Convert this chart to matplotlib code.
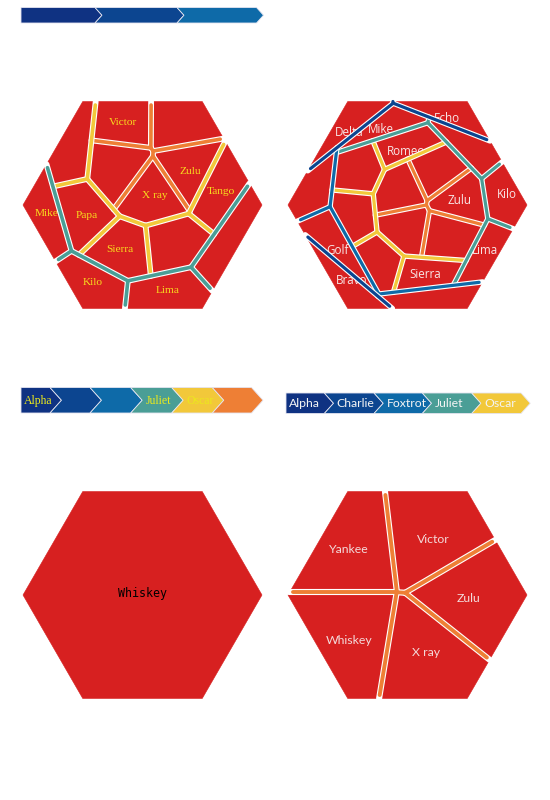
import numpy as np
import matplotlib
matplotlib.use('Agg')
import matplotlib.pyplot as plt
from matplotlib.patches import Polygon
from matplotlib.collections import LineCollection

levels = ['#0f3282', '#0c4590', '#0e6aa8', '#4a9e96', '#f2c83a', '#ee7f35']
red = '#d72020'
R = 119.5

# breadcrumbs
crumb_top = ['', '', '']
crumb_left = ['Alpha', '', '', 'Juliet', 'Oscar', '']
crumb_right = ['Alpha', 'Charlie', 'Foxtrot', 'Juliet', 'Oscar']

# top left: Foxtrot zoomed in
tl_labels = ['Mike', '', 'Papa', 'Sierra', '', 'Tango', 'Victor', '', '', 'X ray', 'Zulu', 'Kilo', 'Lima', '']
tl_paths = ['Alpha/Charlie/Foxtrot/Mike',
            'Alpha/Charlie/Foxtrot/Juliet/Quebec',
            'Alpha/Charlie/Foxtrot/Juliet/Papa',
            'Alpha/Charlie/Foxtrot/Juliet/Sierra',
            'Alpha/Charlie/Foxtrot/Juliet/Uniform',
            'Alpha/Charlie/Foxtrot/Juliet/Tango',
            'Alpha/Charlie/Foxtrot/Juliet/Oscar/Victor',
            'Alpha/Charlie/Foxtrot/Juliet/Oscar/Yankee',
            'Alpha/Charlie/Foxtrot/Juliet/Oscar/Whiskey',
            'Alpha/Charlie/Foxtrot/Juliet/Oscar/X ray',
            'Alpha/Charlie/Foxtrot/Juliet/Oscar/Zulu',
            'Alpha/Charlie/Foxtrot/Kilo',
            'Alpha/Charlie/Foxtrot/Lima',
            'Alpha/Charlie/Foxtrot/November']
tl_values = [21, 24, 28, 28, 28, 26, 24, 27, 27, 27, 25, 25, 27, 26]
tl_x = [46.7, 72, 86.7, 120, 178, 221, 122.7, 182, 117, 155, 190.7, 92.7, 167.7, 224]
tl_y = [213, 148, 215, 250, 244, 191, 122.7, 123, 168, 196, 172, 282.7, 290.7, 240]

# top right: whole tree
tr_labels = ['Delta', 'Echo', 'Bravo', '', 'Golf', '', 'Mike', '', 'Kilo', 'Lima',
             '', 'Romeo', '', '', 'Sierra', '', '', 'Zulu', '', '']
tr_paths = ['Alpha/Delta', 'Alpha/Echo', 'Alpha/Bravo',
            'Alpha/Charlie/Hotel', 'Alpha/Charlie/Golf', 'Alpha/Charlie/India',
            'Alpha/Charlie/Foxtrot/Mike', 'Alpha/Charlie/Foxtrot/November',
            'Alpha/Charlie/Foxtrot/Kilo', 'Alpha/Charlie/Foxtrot/Lima',
            'Alpha/Charlie/Foxtrot/Juliet/Quebec', 'Alpha/Charlie/Foxtrot/Juliet/Romeo',
            'Alpha/Charlie/Foxtrot/Juliet/Papa', 'Alpha/Charlie/Foxtrot/Juliet/Uniform',
            'Alpha/Charlie/Foxtrot/Juliet/Sierra',
            'Alpha/Charlie/Foxtrot/Juliet/Oscar/Yankee', 'Alpha/Charlie/Foxtrot/Juliet/Oscar/Victor',
            'Alpha/Charlie/Foxtrot/Juliet/Oscar/Zulu', 'Alpha/Charlie/Foxtrot/Juliet/Oscar/X ray',
            'Alpha/Charlie/Foxtrot/Juliet/Oscar/Whiskey']
tr_values = [16, 15, 16, 18, 21, 18, 16, 17, 18, 17, 20, 17, 18, 18, 18, 19, 19, 20, 21, 19]
tr_x = [349, 446.7, 352, 311, 337.5, 433, 381, 470, 506.7, 485, 356, 405.8, 352, 380, 425, 395, 438, 460, 450, 403]
tr_y = [133, 118, 280, 190, 250, 298, 129.7, 150, 195, 250.7, 172, 151.7, 214, 262, 275, 190, 170, 200, 238, 230]

# bottom left: Whiskey
bl_labels = ['Whiskey']
bl_paths = ['Alpha/Charlie/Foxtrot/Juliet/Oscar/Whiskey']
bl_values = [75]
bl_x = [142.5]
bl_y = [594]

# bottom right: Oscar
br_labels = ['Yankee', 'Victor', 'Zulu', 'X ray', 'Whiskey']
br_paths = ['Alpha/Charlie/Foxtrot/Juliet/Oscar/' + s for s in br_labels]
br_values = [73, 75, 73, 75, 75]
br_x = [349, 433.3, 468.3, 425.7, 349]
br_y = [549.3, 539.3, 599, 652.7, 640]


def clip(P, T, a, b, c, tag):
    outp, outt = [], []
    n = len(P)
    for k in range(n):
        p, q = P[k], P[(k + 1) % n]
        fp = a * p[0] + b * p[1] - c
        fq = a * q[0] + b * q[1] - c
        if fp <= 0:
            outp.append(p)
            outt.append(T[k])
            if fq > 0:
                s = fp / (fp - fq)
                outp.append((p[0] + s * (q[0] - p[0]), p[1] + s * (q[1] - p[1])))
                outt.append(tag)
        elif fq <= 0:
            s = fp / (fp - fq)
            outp.append((p[0] + s * (q[0] - p[0]), p[1] + s * (q[1] - p[1])))
            outt.append(T[k])
    return outp, outt


def area(P):
    if len(P) < 3:
        return 0.0
    x = np.array([p[0] for p in P])
    y = np.array([p[1] for p in P])
    return 0.5 * abs(np.dot(x, np.roll(y, -1)) - np.dot(y, np.roll(x, -1)))


def power_cells(poly, sites, w):
    out = []
    for i, (sx, sy) in enumerate(sites):
        P, T = list(poly), [None] * len(poly)
        for j, (tx, ty) in enumerate(sites):
            if j == i or not P:
                continue
            a, b = 2 * (tx - sx), 2 * (ty - sy)
            c = tx * tx + ty * ty - sx * sx - sy * sy - w[j] + w[i]
            P, T = clip(P, T, a, b, c, j)
        out.append((P, T))
    return out


def fit(poly, sites, values):
    tgt = np.array(values, float)
    tgt = tgt / tgt.sum() * area(poly)
    w = np.zeros(len(sites))
    for it in range(500):
        cells = power_cells(poly, sites, w)
        ar = np.array([area(P) for P, T in cells])
        w += 0.2 * (tgt - ar)
    return power_cells(poly, sites, w)


def on_hex(p, cx, cy):
    ap = R * np.sqrt(3) / 2
    for ang in np.radians(np.arange(30, 360, 60)):
        if (p[0] - cx) * np.cos(ang) + (p[1] - cy) * np.sin(ang) > ap - 0.6:
            return True
    return False


def voronoi_chart(ax, cx, cy, labels, paths, values, xs, ys, lw, font):
    hexagon = [(cx + R * np.cos(a), cy + R * np.sin(a)) for a in np.radians(np.arange(0, 360, 60))]
    paths = [p.split('/') for p in paths]
    cells, edges = [], []

    def split(poly, idx, d):
        if len(idx) == 1:
            cells.append((poly, idx[0]))
            return
        groups = {}
        for i in idx:
            groups.setdefault(paths[i][d], []).append(i)
        keys = list(groups)
        if len(keys) == 1:
            split(poly, idx, d + 1)
            return
        sites, tot = [], []
        for k in keys:
            g = groups[k]
            v = np.array([values[i] for i in g], float)
            sites.append((np.dot(v, [xs[i] for i in g]) / v.sum(), np.dot(v, [ys[i] for i in g]) / v.sum()))
            tot.append(v.sum())
        res = fit(poly, sites, tot)
        for k, (P, T) in enumerate(res):
            for m in range(len(P)):
                if T[m] is not None and T[m] > k:
                    edges.append((P[m], P[(m + 1) % len(P)], d))
            if P:
                split(P, groups[keys[k]], d + 1)

    split(hexagon, list(range(len(labels))), 0)

    for P, i in cells:
        ax.add_patch(Polygon(P, closed=True, fc=red, ec=red, lw=0.4, zorder=1))
        if labels[i]:
            ax.text(xs[i], ys[i], labels[i], ha='center', va='center', zorder=2, **font)

    def shorten(p, q):
        p, q = np.array(p), np.array(q)
        L = np.hypot(*(q - p))
        if L < 8:
            return p, q
        u = (q - p) / L
        p2 = p + 3.5 * u if on_hex(p, cx, cy) else p
        q2 = q - 3.5 * u if on_hex(q, cx, cy) else q
        return p2, q2

    for lev in sorted({e[2] for e in edges}, reverse=True):
        segs = [(p, q) for p, q, l in edges if l == lev]
        z = 3 + (10 - lev) * 2
        ax.add_collection(LineCollection(segs, colors='white', linewidths=lw + 1.6,
                                         capstyle='round', zorder=z))
        ax.add_collection(LineCollection([shorten(p, q) for p, q in segs], colors=levels[lev],
                                         linewidths=lw, capstyle='round', zorder=z + 1))


def breadcrumb(ax, x0, corners, top, bot, labels, font):
    tip = 0.9 * (bot - top) / 2
    mid = (top + bot) / 2
    starts = [x0] + corners[:-1]
    for i, (a, b) in enumerate(zip(starts, corners)):
        pts = [(a, top), (b, top), (b + tip, mid), (b, bot), (a, bot)]
        if i > 0:
            pts.append((a + tip, mid))
        ax.add_patch(Polygon(pts, closed=True, fc=levels[i], ec='#e4e4f0', lw=0.6, zorder=1))
        if labels[i]:
            ax.text(a + (tip if i > 0 else 0) + 3.3, mid + 0.5, labels[i], ha='left', va='center',
                    zorder=2, **font)


fig = plt.figure(figsize=(5.5, 8), dpi=100)
ax = fig.add_axes([0, 0, 1, 1])
ax.set_xlim(0, 550)
ax.set_ylim(800, 0)
ax.axis('off')

serif_yellow = dict(family='Liberation Serif', color='#f8dc1e', fontsize=8.2)
sans_white = dict(family='Open Sans', color='#f8e6e6', fontsize=8.4)
thin_white = dict(family='Lato', color='#f3dada', fontsize=8.8)

breadcrumb(ax, 21, [95, 177, 256.5], 7.5, 23, crumb_top, serif_yellow)
breadcrumb(ax, 21, [50, 90, 130.7, 171.7, 212.3, 251.5], 387.5, 413, crumb_left,
           dict(family='Liberation Serif', color='#ece81c', fontsize=8.5))
breadcrumb(ax, 286, [324.3, 374, 422.3, 471.7, 521], 393, 413.5, crumb_right,
           dict(family='Lato', color='#f4f4f4', fontsize=8.8))

voronoi_chart(ax, 142.5, 205, tl_labels, tl_paths, tl_values, tl_x, tl_y, 2.6, serif_yellow)
voronoi_chart(ax, 407.5, 205, tr_labels, tr_paths, tr_values, tr_x, tr_y, 2.3, sans_white)
voronoi_chart(ax, 142.5, 595, bl_labels, bl_paths, bl_values, bl_x, bl_y, 2.6,
              dict(family='DejaVu Sans Mono', color='black', fontsize=8.4))
voronoi_chart(ax, 407.5, 595, br_labels, br_paths, br_values, br_x, br_y, 2.8, thin_white)

fig.savefig('out.png', dpi=100)
